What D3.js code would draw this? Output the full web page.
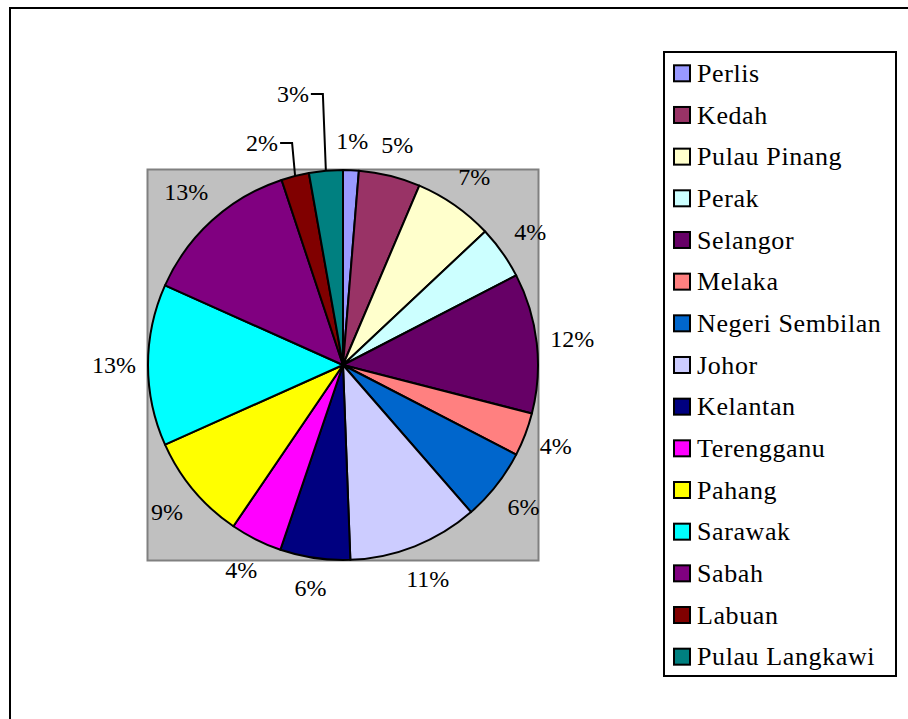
<!DOCTYPE html>
<html>
<head>
<meta charset="utf-8">
<script src="https://cdn.jsdelivr.net/npm/d3@7"></script>
</head>
<body style="margin:0">
<script>
var states = ["Perlis", "Kedah", "Pulau Pinang", "Perak", "Selangor", "Melaka",
  "Negeri Sembilan", "Johor", "Kelantan", "Terengganu", "Pahang", "Sarawak",
  "Sabah", "Labuan", "Pulau Langkawi"];
var shares = [1.3, 5.1, 6.6, 4.4, 11.6, 3.6, 6.0, 10.8, 5.8, 4.3, 8.8, 13.4, 13.2, 2.3, 2.8];
var colors = ["#9999ff", "#993366", "#ffffcc", "#ccffff", "#660066", "#ff8080",
  "#0066cc", "#ccccff", "#000080", "#ff00ff", "#ffff00", "#00ffff",
  "#800080", "#800000", "#008080"];

var W = 908, H = 719;
var cx = 343, cy = 365, r = 195;
var labelSize = 24, legendSize = 26;
var serif = "Liberation Serif";

var svg = d3.select("body").append("svg")
    .attr("width", W).attr("height", H);

// chart frame (runs off the page on the right and bottom)
svg.append("rect")
  .attr("x", 10).attr("y", 8).attr("width", 1000).attr("height", 1000)
  .attr("fill", "none").attr("stroke", "#000").attr("stroke-width", 2);

// plot area
svg.append("rect")
  .attr("x", cx - r - 0.5).attr("y", cy - r - 0.5)
  .attr("width", 2 * r + 1).attr("height", 2 * r + 1)
  .attr("fill", "#c0c0c0").attr("stroke", "#808080").attr("stroke-width", 2);

var color = d3.scaleOrdinal().domain(states).range(colors);
var pie = d3.pie().sort(null).value(function(d) { return d.v; });
var arc = d3.arc().innerRadius(0).outerRadius(r);

var data = pie(states.map(function(s, i) { return { name: s, v: shares[i] }; }));
var total = d3.sum(shares);
var pct = function(d) { return Math.round(d.data.v / total * 100) + "%"; };

var g = svg.append("g").attr("transform", "translate(" + cx + "," + cy + ")");

g.selectAll("path").data(data)
  .enter().append("path")
  .attr("d", arc)
  .attr("fill", function(d) { return color(d.data.name); })
  .attr("stroke", "#000").attr("stroke-width", 2)
  .attr("stroke-linejoin", "round");

// data labels: box sits just outside the rim (digits 0.5em, % 0.833em)
var mid = function(d) { return (d.startAngle + d.endAngle) / 2; };
var textW = function(t) { return ((t.length - 1) * 0.5 + 0.833) * labelSize; };
var crowded = data.filter(function(d) { return mid(d) > 2 * Math.PI * 340 / 360; });
var plain = data.filter(function(d) { return crowded.indexOf(d) < 0; });

var place = function(d) {
  var a = mid(d), w = textW(pct(d)), h = labelSize * 0.68;
  var s = Math.sin(a), c = -Math.cos(a);
  var dist = r + 12 + Math.abs(s) * w / 2 + Math.abs(c) * (h / 2 + 8);
  return [s * dist, c * dist];
};

g.selectAll("text.lab").data(plain)
  .enter().append("text")
  .attr("class", "lab")
  .attr("x", function(d) { return place(d)[0]; })
  .attr("y", function(d) { return place(d)[1]; })
  .attr("dy", "0.33em")
  .attr("text-anchor", "middle")
  .attr("font-family", serif)
  .attr("font-size", labelSize)
  .text(pct);

// labels for the thin slices at the top, pulled up on leader lines
var elbow = [27, 76];
crowded.forEach(function(d, k) {
  var a = mid(d);
  var x0 = Math.sin(a) * r, y0 = -Math.cos(a) * r;
  var ey = -r - elbow[k], ex = x0 - 3;
  g.append("polyline")
    .attr("points", [[x0, y0], [ex, ey], [ex - 12, ey]].map(function(p) { return p.join(","); }).join(" "))
    .attr("fill", "none").attr("stroke", "#000").attr("stroke-width", 2);
  g.append("text")
    .attr("x", ex - 14).attr("y", ey).attr("dy", "0.33em")
    .attr("text-anchor", "end")
    .attr("font-family", serif)
    .attr("font-size", labelSize)
    .text(pct(d));
});

// legend
var lx = 664, ly = 52, lw = 232, lh = 624, step = 41.67;
svg.append("rect")
  .attr("x", lx).attr("y", ly).attr("width", lw).attr("height", lh)
  .attr("fill", "#fff").attr("stroke", "#000").attr("stroke-width", 2);

var row = d3.scaleLinear().domain([0, 1]).range([ly + 21.3, ly + 21.3 + step]);

var item = svg.selectAll("g.leg").data(states)
  .enter().append("g")
  .attr("class", "leg")
  .attr("transform", function(d, i) { return "translate(" + (lx + 10) + "," + row(i) + ")"; });

item.append("rect")
  .attr("x", 0).attr("y", -8).attr("width", 16).attr("height", 16)
  .attr("fill", function(d) { return color(d); })
  .attr("stroke", "#000").attr("stroke-width", 2);

item.append("text")
  .attr("x", 23).attr("dy", "0.33em")
  .attr("font-family", serif)
  .attr("font-size", legendSize)
  .attr("letter-spacing", 0.6)
  .text(function(d) { return d; });
</script>
</body>
</html>
